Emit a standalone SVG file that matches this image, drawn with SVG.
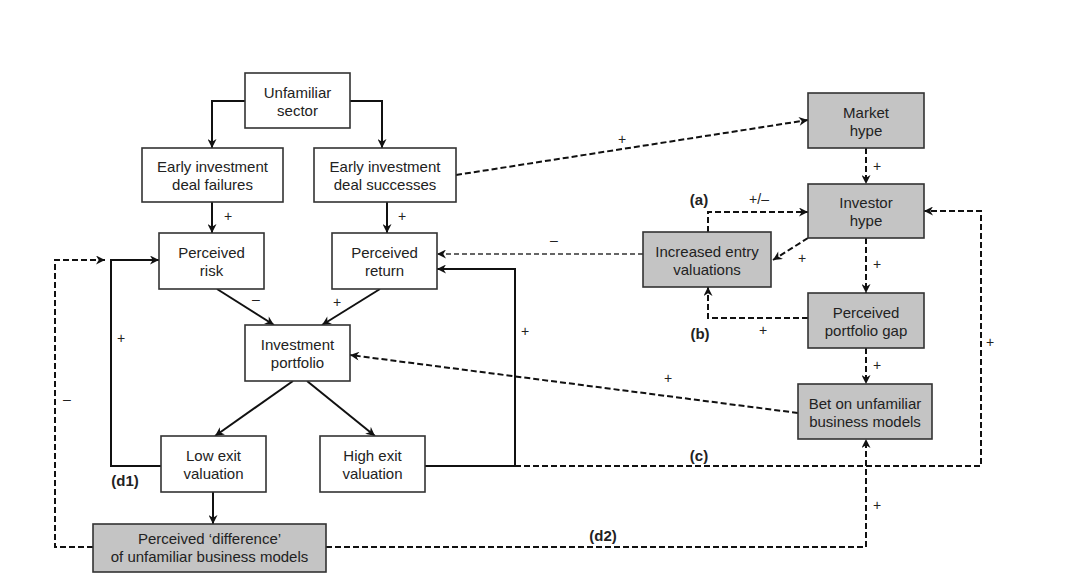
<svg xmlns="http://www.w3.org/2000/svg" width="1080" height="587" viewBox="0 0 1080 587">
<defs>
<marker id="ah" viewBox="0 0 10 10" refX="10" refY="5" markerWidth="11" markerHeight="9" markerUnits="userSpaceOnUse" orient="auto">
<path d="M0,0 L10,5 L0,10 L3,5 z" fill="#111"/>
</marker>
<style>
.box{fill:#fff;stroke:#333;stroke-width:1.6}
.gbox{fill:#c4c4c4;stroke:#333;stroke-width:1.6}
.t{font-family:"Liberation Sans",Arial,sans-serif;font-size:15px;fill:#222;text-anchor:middle}
.s{fill:none;stroke:#111;stroke-width:2;marker-end:url(#ah)}
.sn{fill:none;stroke:#111;stroke-width:2}
.d{fill:none;stroke:#111;stroke-width:2;stroke-dasharray:6,3;marker-end:url(#ah)}
.dn{fill:none;stroke:#111;stroke-width:2;stroke-dasharray:6,3}
.dt{fill:none;stroke:#333;stroke-width:1.3;stroke-dasharray:5,3;marker-end:url(#ah)}
.l{font-family:"Liberation Sans",Arial,sans-serif;font-size:14px;fill:#222;text-anchor:middle;dominant-baseline:central}
.b{font-family:"Liberation Sans",Arial,sans-serif;font-size:15px;font-weight:bold;fill:#222;text-anchor:middle;dominant-baseline:central}
</style>
</defs>
<rect width="1080" height="587" fill="#fff"/>
<g id="connectors">
<path class="s" d="M245,101 H212 V148"/>
<path class="s" d="M350,101 H382 V148"/>
<path class="s" d="M212,202 V233"/>
<path class="s" d="M387,202 V233"/>
<path class="s" d="M217,289 L274,325"/>
<path class="s" d="M380,289 L322,325"/>
<path class="s" d="M293,381 L215,436"/>
<path class="s" d="M307,381 L375,436"/>
<path class="s" d="M213,492 V524"/>
<path class="s" d="M161,466 H111 V260 H159"/>
<path class="s" d="M425,466 H515 V269 H437"/>
<path class="d" d="M515,466 H981 V211 H924"/>
<path class="d" d="M93,547 H55 V260 H105"/>
<path class="d" d="M326,547 H866 V439"/>
<path class="d" d="M456,175 L808,120"/>
<path class="d" d="M866,148 V184"/>
<path class="d" d="M808,238 L773,260"/>
<path class="d" d="M708,232 V212 H808"/>
<path class="d" d="M866,238 V293"/>
<path class="d" d="M808,318 H708 V287"/>
<path class="d" d="M866,348 V384"/>
<path class="dt" d="M643,254 H437"/>
<path class="d" d="M798,413 L350,355"/>
</g>
<g id="labels">
<text class="l" x="228" y="216">+</text>
<text class="l" x="402" y="216">+</text>
<text class="l" x="256" y="299">–</text>
<text class="l" x="337" y="302">+</text>
<text class="l" x="121" y="338">+</text>
<text class="l" x="525" y="331">+</text>
<text class="l" x="67" y="399">–</text>
<text class="l" x="990" y="342">+</text>
<text class="l" x="877" y="505">+</text>
<text class="l" x="622" y="139">+</text>
<text class="l" x="877" y="166">+</text>
<text class="l" x="802" y="258">+</text>
<text class="l" x="759" y="199">+/–</text>
<text class="l" x="877" y="264">+</text>
<text class="l" x="763" y="330">+</text>
<text class="l" x="877" y="365">+</text>
<text class="l" x="554" y="240">–</text>
<text class="l" x="668" y="378">+</text>
<text class="b" x="699" y="199">(a)</text>
<text class="b" x="700" y="333">(b)</text>
<text class="b" x="699" y="455">(c)</text>
<text class="b" x="125" y="480">(d1)</text>
<text class="b" x="603" y="535">(d2)</text>
</g>
<g id="unfamiliar-sector"><rect class="box" x="245" y="73" width="105" height="55"/><text class="t" x="297.5" y="97.5">Unfamiliar</text><text class="t" x="297.5" y="115.5">sector</text></g>
<g id="deal-failures"><rect class="box" x="142" y="148" width="141" height="54"/><text class="t" x="212.5" y="172">Early investment</text><text class="t" x="212.5" y="190">deal failures</text></g>
<g id="deal-successes"><rect class="box" x="314" y="148" width="142" height="54"/><text class="t" x="385" y="172">Early investment</text><text class="t" x="385" y="190">deal successes</text></g>
<g id="perceived-risk"><rect class="box" x="159" y="233" width="105" height="56"/><text class="t" x="211.5" y="258">Perceived</text><text class="t" x="211.5" y="276">risk</text></g>
<g id="perceived-return"><rect class="box" x="332" y="233" width="105" height="56"/><text class="t" x="384.5" y="258">Perceived</text><text class="t" x="384.5" y="276">return</text></g>
<g id="investment-portfolio"><rect class="box" x="245" y="325" width="105" height="56"/><text class="t" x="297.5" y="350">Investment</text><text class="t" x="297.5" y="368">portfolio</text></g>
<g id="low-exit"><rect class="box" x="161" y="436" width="105" height="56"/><text class="t" x="213.5" y="461">Low exit</text><text class="t" x="213.5" y="479">valuation</text></g>
<g id="high-exit"><rect class="box" x="320" y="436" width="105" height="56"/><text class="t" x="372.5" y="461">High exit</text><text class="t" x="372.5" y="479">valuation</text></g>
<g id="perceived-difference"><rect class="gbox" x="93" y="524" width="233" height="48"/><text class="t" x="209.5" y="544">Perceived ‘difference’</text><text class="t" x="209.5" y="562">of unfamiliar business models</text></g>
<g id="market-hype"><rect class="gbox" x="808" y="93" width="116" height="55"/><text class="t" x="866" y="117.5">Market</text><text class="t" x="866" y="135.5">hype</text></g>
<g id="investor-hype"><rect class="gbox" x="808" y="184" width="116" height="54"/><text class="t" x="866" y="208">Investor</text><text class="t" x="866" y="226">hype</text></g>
<g id="increased-entry"><rect class="gbox" x="643" y="232" width="128" height="55"/><text class="t" x="707" y="256.5">Increased entry</text><text class="t" x="707" y="274.5">valuations</text></g>
<g id="portfolio-gap"><rect class="gbox" x="808" y="293" width="116" height="55"/><text class="t" x="866" y="317.5">Perceived</text><text class="t" x="866" y="335.5">portfolio gap</text></g>
<g id="bet-unfamiliar"><rect class="gbox" x="798" y="384" width="134" height="55"/><text class="t" x="865" y="408.5">Bet on unfamiliar</text><text class="t" x="865" y="426.5">business models</text></g>
</svg>
